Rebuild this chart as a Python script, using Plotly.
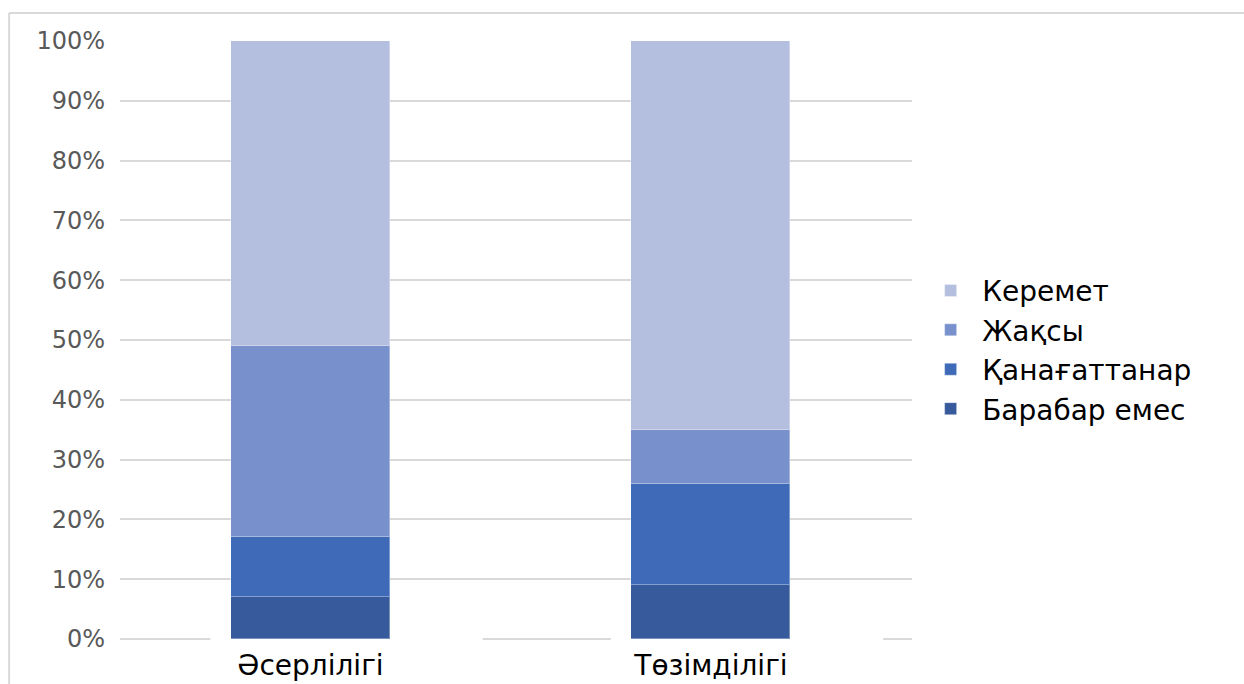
import plotly.graph_objects as go

# Survey categories and the share (%) of each rating within them
categories = ["Әсерлілігі", "Төзімділігі"]
series_names = ["Барабар емес", "Қанағаттанар", "Жақсы", "Керемет"]
barabar_emes = [7, 9]
qanagattanar = [10, 17]
zhaqsy = [32, 9]
keremet = [51, 65]
y_ticks = list(range(0, 101, 10))
y_tick_labels = [f"{v}%" for v in y_ticks]

series_values = [barabar_emes, qanagattanar, zhaqsy, keremet]
colors = ["#375a9c", "#3e6ab8", "#7891cd", "#b4bfdf"]

fig = go.Figure()
for name, vals, col in zip(series_names, series_values, colors):
    fig.add_trace(go.Bar(
        x=list(range(len(categories))),
        y=vals,
        name=name,
        width=0.397,
        marker=dict(color=col, line=dict(color="rgba(255,255,255,0.35)", width=1)),
        hoverinfo="name+y",
    ))

# White patches that break the baseline gridline around each bar
shapes = []
for i in range(len(categories)):
    shapes.append(dict(type="rect", xref="x", yref="y", layer="between",
                       x0=i - 0.25, x1=i + 0.43, y0=-0.6, y1=0.6,
                       fillcolor="white", line=dict(width=0)))

# Light frame around the chart area
shapes.append(dict(type="line", xref="paper", yref="paper",
                   x0=-0.140, x1=1.42, y0=1.0464, y1=1.0464,
                   line=dict(color="#d9d9d9", width=2)))
shapes.append(dict(type="line", xref="paper", yref="paper",
                   x0=-0.140, x1=-0.140, y0=1.0464, y1=-0.08,
                   line=dict(color="#d9d9d9", width=2)))

fig.update_layout(
    width=1244, height=684,
    margin=dict(l=120, r=332, t=41, b=40, autoexpand=False),
    barmode="stack",
    bargap=0,
    plot_bgcolor="white",
    paper_bgcolor="white",
    font=dict(family="DejaVu Sans", color="#000000"),
    shapes=shapes,
    legend=dict(
        traceorder="reversed",
        x=1.009, y=0.488, xanchor="left", yanchor="middle",
        font=dict(size=28, color="#000000"),
        itemwidth=53,
    ),
    xaxis=dict(
        range=[-0.4757, 1.502],
        tickmode="array",
        tickvals=list(range(len(categories))),
        ticktext=categories,
        tickfont=dict(size=28, color="#000000"),
        showgrid=False, zeroline=False, showline=False,
        ticks="", ticklabelstandoff=2, automargin=False,
    ),
    yaxis=dict(
        range=[-0.84, 100],
        tickmode="array",
        tickvals=y_ticks,
        ticktext=y_tick_labels,
        tickfont=dict(size=24, color="#595959"),
        showgrid=True, gridcolor="#d9d9d9", gridwidth=1.5,
        zeroline=False, showline=False,
        ticks="", ticklabelstandoff=14, automargin=False,
    ),
)

fig.write_html("out.html")
